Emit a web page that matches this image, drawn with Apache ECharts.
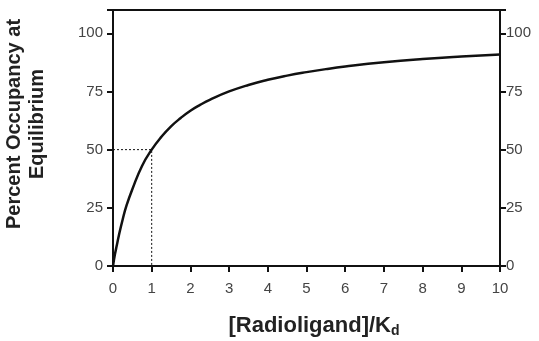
<!DOCTYPE html>
<html>
<head>
<meta charset="utf-8">
<script src="https://cdn.jsdelivr.net/npm/echarts@6/dist/echarts.min.js"></script>
<style>
	html, body { margin: 0; padding: 0; background: #fff; }
	#chart { width: 539px; height: 341px; }
</style>
</head>
<body>
<div id="chart"></div>
<script>
	// values
	var ratio = [0, 0.05, 0.1, 0.15, 0.25, 0.35, 0.5, 0.75, 1, 1.25, 1.5, 1.75, 2, 2.25, 2.5, 3, 3.5, 4, 4.5, 5, 5.5, 6, 7, 8, 9, 10];
	var occupancy = [0, 5, 9, 13, 20, 26, 33, 43, 50, 55.5, 60, 63.6, 66.7, 69.2, 71.4, 75, 77.8, 80, 81.8, 83.3, 84.6, 85.7, 87.5, 88.9, 90, 90.9];
	var guideX = [0, 1, 1];
	var guideY = [50, 50, 0];
	var yTicks = [0, 25, 50, 75, 100];

	var curve = [];
	for (var i = 0; i < ratio.length; i++) {
		curve.push([ratio[i], occupancy[i]]);
	}
	var guide = [];
	for (var j = 0; j < guideX.length; j++) {
		guide.push([guideX[j], guideY[j]]);
	}

	var font = 'Liberation Sans, Arial, sans-serif';
	var axisLine = { lineStyle: { color: '#111', width: 2 } };
	var axisTick = { length: 6, lineStyle: { color: '#111', width: 2 } };

	function yAxis(pos, margin) {
		return {
			type: 'value',
			position: pos,
			min: 0,
			max: 110,
			interval: 25,
			axisLine: axisLine,
			axisTick: axisTick,
			splitLine: { show: false },
			axisLabel: {
				color: '#444', fontSize: 15, fontFamily: font, margin: margin,
				formatter: function (v) { return yTicks.indexOf(v) >= 0 ? v : ''; }
			}
		};
	}

	var chart = echarts.init(document.getElementById('chart'));
	chart.setOption({
		animation: false,
		grid: {
			left: 113, right: 39, top: 10, bottom: 75,
			show: true, borderColor: '#111', borderWidth: 2
		},
		xAxis: {
			type: 'value',
			min: 0,
			max: 10,
			interval: 1,
			axisLine: axisLine,
			axisTick: axisTick,
			splitLine: { show: false },
			axisLabel: { color: '#444', fontSize: 15, fontFamily: font, margin: 15 }
		},
		yAxis: [yAxis('left', 10), yAxis('right', 6)],
		graphic: [
			{
				type: 'text',
				x: 14, y: 124, rotation: Math.PI / 2,
				style: {
					text: 'Percent Occupancy at', fill: '#222',
					font: 'bold 20px ' + font, align: 'center', verticalAlign: 'middle'
				}
			},
			{
				type: 'text',
				x: 37, y: 124, rotation: Math.PI / 2,
				style: {
					text: 'Equilibrium', fill: '#222',
					font: 'bold 20px ' + font, align: 'center', verticalAlign: 'middle'
				}
			},
			{
				type: 'text',
				x: 314, y: 326,
				style: {
					text: '[Radioligand]/K{s|d}', fill: '#222',
					font: 'bold 22px ' + font, align: 'center', verticalAlign: 'middle',
					rich: { s: { fontSize: 14, fontWeight: 'bold', fontFamily: font, padding: [11, 0, 0, 0] } }
				}
			}
		],
		series: [
			{
				type: 'line',
				data: curve,
				smooth: true,
				showSymbol: false,
				lineStyle: { color: '#111', width: 2.5 }
			},
			{
				type: 'line',
				data: guide,
				showSymbol: false,
				lineStyle: { color: '#111', width: 1, type: [2, 2] }
			}
		]
	});
</script>
</body>
</html>
